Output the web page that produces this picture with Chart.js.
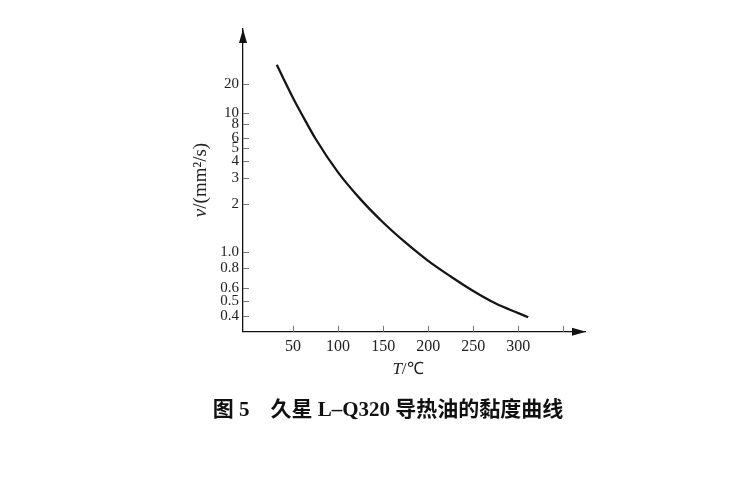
<!DOCTYPE html>
<html>
<head>
<meta charset="utf-8">
<script src="https://cdn.jsdelivr.net/npm/chart.js"></script>
<style>
  html, body { margin: 0; padding: 0; background: #fff; }
  canvas { display: block; }
</style>
</head>
<body>
<canvas id="viscosityChart" width="746" height="479"></canvas>
<script>
// Temperatur (°C) und kinematische Viskosität (mm²/s)
const temperatures = [32, 40, 50, 60, 75, 100, 125, 150, 175, 200, 225, 250, 275, 300, 311];
const viscosities  = [34.5, 22.5, 14.2, 9.7, 5.95, 3.28, 2.14, 1.52, 1.14, 0.884, 0.71, 0.578, 0.482, 0.418, 0.393];

const xTicks      = [50, 100, 150, 200, 250, 300, 350];
const xTickLabels = ['50', '100', '150', '200', '250', '300', ''];
const yTicks      = [20, 10, 8, 6, 5, 4, 3, 2, 1, 0.8, 0.6, 0.5, 0.4];
const yTickLabels = ['20', '10', '8', '6', '5', '4', '3', '2', '1.0', '0.8', '0.6', '0.5', '0.4'];

const chartTitle = '图 5\u3000久星 L–Q320 导热油的黏度曲线';

const SERIF = '"Liberation Serif", "Times New Roman", serif';

/* Viskositätsachse: log(log(v + c)) wie im Viskositäts-Temperatur-Diagramm */
const C = 1.2;
const loglog = (v) => Math.log10(Math.log10(v + C));

class ViscosityScale extends Chart.LinearScale {
    static id = 'viscosity';
    static defaults = {};

    buildTicks() {
        return yTicks.map((value) => ({ value }));
    }

    configure() {
        super.configure();
        this._llStart = loglog(this.min);
        this._llRange = loglog(this.max) - this._llStart;
    }

    getPixelForValue(value) {
        return this.getPixelForDecimal((loglog(value) - this._llStart) / this._llRange);
    }

    getValueForPixel(pixel) {
        const d = this.getDecimalForPixel(pixel);
        return Math.pow(10, Math.pow(10, this._llStart + d * this._llRange)) - C;
    }
}
Chart.register(ViscosityScale);

/* Pfeile, innenliegende Striche und Achsentitel */
const axisDecor = {
    id: 'axisDecor',
    afterDraw(chart) {
        const { ctx, chartArea: a, scales: { x, y } } = chart;
        ctx.save();

        // Striche nach innen
        ctx.strokeStyle = '#777';
        ctx.lineWidth = 1;
        ctx.beginPath();
        y.ticks.forEach((t) => {
            const py = Math.round(y.getPixelForValue(t.value)) + 0.5;
            ctx.moveTo(a.left, py);
            ctx.lineTo(a.left + 6, py);
        });
        x.ticks.forEach((t) => {
            const px = Math.round(x.getPixelForValue(t.value)) + 0.5;
            ctx.moveTo(px, a.bottom);
            ctx.lineTo(px, a.bottom - 6);
        });
        ctx.stroke();

        // Pfeilspitzen
        ctx.fillStyle = '#111';
        ctx.beginPath();
        ctx.moveTo(a.left, a.top);
        ctx.lineTo(a.left - 4, a.top + 14);
        ctx.lineTo(a.left + 4, a.top + 14);
        ctx.closePath();
        ctx.moveTo(a.right + 1, a.bottom);
        ctx.lineTo(a.right - 13, a.bottom - 4);
        ctx.lineTo(a.right - 13, a.bottom + 4);
        ctx.closePath();
        ctx.fill();

        // Achsentitel mit kursiven Formelzeichen
        const drawParts = (parts, cx, cy) => {
            let total = 0;
            parts.forEach((p) => {
                ctx.font = p.font;
                total += ctx.measureText(p.text).width;
            });
            let px = cx - total / 2;
            ctx.textBaseline = 'middle';
            ctx.textAlign = 'left';
            parts.forEach((p) => {
                ctx.font = p.font;
                ctx.fillText(p.text, px, cy);
                px += ctx.measureText(p.text).width;
            });
        };
        ctx.fillStyle = '#222';

        drawParts([
            { text: 'T', font: `italic 17px ${SERIF}` },
            { text: '/℃', font: `17px ${SERIF}` },
        ], a.left + 165, a.bottom + 38);

        ctx.translate(a.left - 42, a.top + 151);
        ctx.rotate(-Math.PI / 2);
        drawParts([
            { text: 'ν', font: `italic 19px ${SERIF}` },
            { text: '/(mm²/s)', font: `19px ${SERIF}` },
        ], 0, 0);

        ctx.restore();
    }
};

new Chart(document.getElementById('viscosityChart').getContext('2d'), {
    type: 'line',
    data: {
        datasets: [{
            data: temperatures.map((t, i) => ({ x: t, y: viscosities[i] })),
            borderColor: '#161616',
            borderWidth: 2.3,
            pointRadius: 0,
            fill: false,
            cubicInterpolationMode: 'monotone',
        }]
    },
    options: {
        responsive: false,
        animation: false,
        devicePixelRatio: 1,
        layout: { padding: { left: 191, right: 161, top: 29, bottom: 0 } },
        plugins: {
            legend: { display: false },
            tooltip: { enabled: false },
            title: {
                display: true,
                position: 'bottom',
                text: chartTitle,
                color: '#111',
                font: { family: '"Liberation Serif", "Noto Sans CJK SC", serif', size: 21, weight: 'bold', lineHeight: 1.2 },
                padding: { top: 10, bottom: 56 },
            },
        },
        scales: {
            x: {
                type: 'linear',
                min: -5.5,
                max: 374,
                afterBuildTicks: (scale) => { scale.ticks = xTicks.map((value) => ({ value })); },
                afterFit: (scale) => { scale.height = 56; },
                grid: { drawOnChartArea: false, drawTicks: false },
                border: { display: true, color: '#111', width: 1.3 },
                ticks: {
                    autoSkip: false,
                    maxRotation: 0,
                    padding: 5,
                    color: '#222',
                    font: { family: SERIF, size: 16 },
                    callback: (value, index) => xTickLabels[index],
                },
            },
            y: {
                type: 'viscosity',
                min: 0.3127,
                max: 117,
                afterFit: (scale) => { scale.width = 52; },
                grid: { drawOnChartArea: false, drawTicks: false },
                border: { display: true, color: '#111', width: 1.3 },
                ticks: {
                    autoSkip: false,
                    padding: 4,
                    color: '#222',
                    font: { family: SERIF, size: 15, lineHeight: 1 },
                    callback: (value, index) => yTickLabels[index],
                },
            },
        },
    },
    plugins: [axisDecor],
});
</script>
</body>
</html>
